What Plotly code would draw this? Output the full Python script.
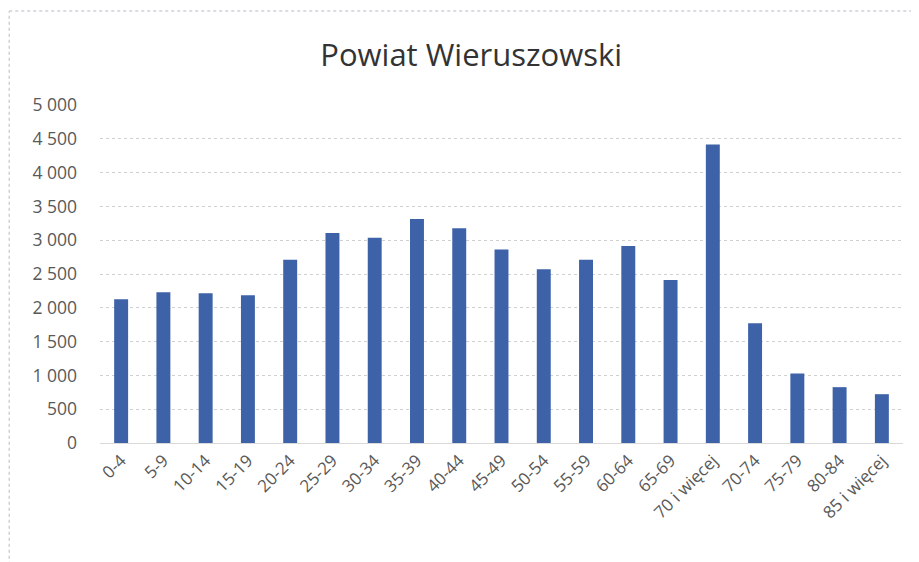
import plotly.graph_objects as go

categories = ["0-4", "5-9", "10-14", "15-19", "20-24", "25-29", "30-34", "35-39",
              "40-44", "45-49", "50-54", "55-59", "60-64", "65-69", "70 i więcej",
              "70-74", "75-79", "80-84", "85 i więcej"]
values = [2127, 2230, 2216, 2186, 2710, 3106, 3037, 3313, 3175, 2864, 2572,
          2710, 2913, 2413, 4416, 1770, 1029, 826, 722]
y_ticks = [0, 500, 1000, 1500, 2000, 2500, 3000, 3500, 4000, 4500, 5000]

fig = go.Figure()
fig.add_trace(go.Bar(
    x=categories,
    y=values,
    marker=dict(color="#3d62a8", line=dict(width=0)),
))

# cadre du scan (bords gauche et haut, pointillés clairs)
frame = dict(color="#cfcfd8", width=1.5, dash="dot")

fig.update_layout(
    width=919, height=562,
    paper_bgcolor="white", plot_bgcolor="white",
    separators=", ",
    font=dict(family="Open Sans, Liberation Sans, sans-serif", color="#595959"),
    title=dict(text="Powiat Wieruszowski", x=0.504, xanchor="center", y=0.916, yanchor="middle",
               font=dict(size=31, color="#333333")),
    margin=dict(l=92, r=24, t=97, b=127),
    bargap=0.67,
    showlegend=False,
    xaxis=dict(
        tickangle=-45,
        tickfont=dict(size=17, color="#595959"),
        showgrid=False,
        showline=True, linecolor="#d9d9d9", linewidth=1,
        ticks="",
    ),
    yaxis=dict(
        range=[0, 5000],
        tickvals=y_ticks,
        tickformat=",d",
        tickfont=dict(size=17.5, color="#595959"),
        showgrid=True, gridcolor="#d0d0d0", griddash="dot", gridwidth=1,
        zeroline=False,
        ticks="", ticklen=0,
        ticklabelstandoff=22,
    ),
    shapes=[
        dict(type="line", xref="paper", yref="paper",
             x0=-0.113, x1=-0.113, y0=-0.36, y1=1.278, line=frame),
        dict(type="line", xref="paper", yref="paper",
             x0=-0.113, x1=1.04, y0=1.278, y1=1.278, line=frame),
    ],
)

fig.write_html("out.html")
